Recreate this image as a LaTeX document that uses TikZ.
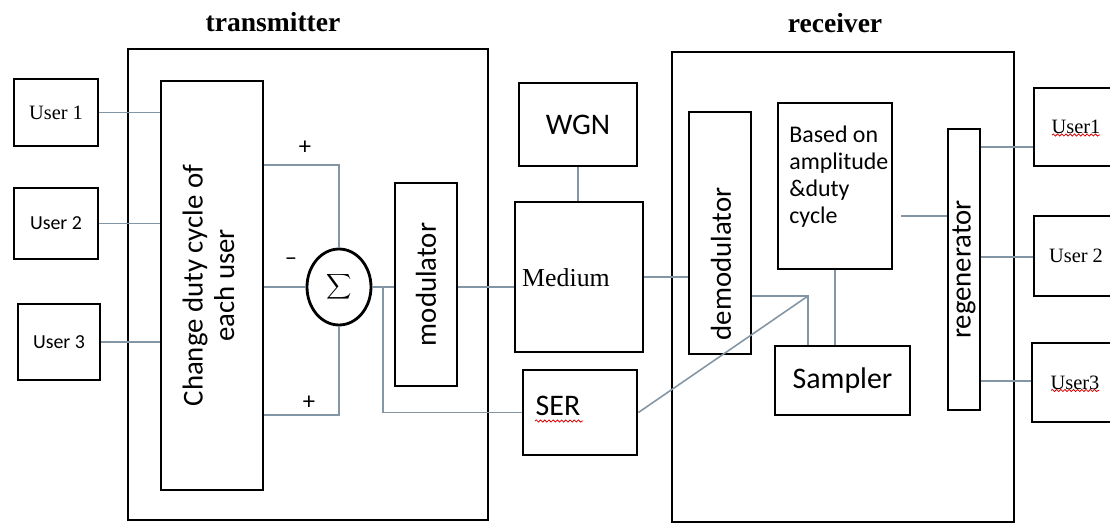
\documentclass[tikz,border=0pt]{standalone}
\usepackage{fontspec}
\usepackage{graphicx}
\setmainfont{Liberation Serif}
\newfontfamily\calfont{Carlito}
\usepackage{tikz}
\usetikzlibrary{shapes.geometric,decorations.pathmorphing}
\definecolor{wirecol}{RGB}{130,150,165}

\begin{document}
\begin{tikzpicture}[x=0.02cm,y=-0.02cm,
  blk/.style={draw=black,line width=1.6pt,inner sep=0pt},
  wire/.style={draw=wirecol,line width=0.9pt},
  squig/.style={draw=red!85!black,line width=0.45pt,decorate,decoration={snake,amplitude=0.6pt,segment length=2.4pt}},
  ttl/.style={font=\bfseries\fontsize{15.7}{18}\selectfont},
  big/.style={font=\calfont\fontsize{16.4}{18}\selectfont},
  usr/.style={font=\fontsize{11.6}{13}\selectfont},
  usrs/.style={font=\calfont\fontsize{11.3}{13}\selectfont},
  sgn/.style={font=\calfont\fontsize{14}{15}\selectfont,inner sep=0pt}]
\useasboundingbox (0,0) rectangle (1110,524);
\clip (0,0) rectangle (1110,524);
% titles
\node[ttl] (txl) at (273,22) {transmitter};
\node[ttl] (rxl) at (835,23) {receiver};
% transmitter
\node[blk,minimum width=7.2cm,minimum height=9.42cm] (tx) at (308,284.5) {};
\node[blk,usr,minimum width=1.68cm,minimum height=1.34cm] (u1) at (56,112.5) {User 1};
\node[blk,usrs,minimum width=1.68cm,minimum height=1.42cm] (u2) at (56,223.5) {User 2};
\node[blk,usrs,minimum width=1.64cm,minimum height=1.52cm] (u3) at (59,342) {User 3};
\node[blk,big,minimum width=2.04cm,minimum height=8.18cm] (chg) at (212,285.5) {\rotatebox{90}{\begin{tabular}{@{}c@{}}Change duty cycle of\\each user\end{tabular}}};
\node[blk,ellipse,minimum width=1.28cm,minimum height=1.52cm] (sum) at (339,287) {\fontsize{16}{18}\selectfont$\displaystyle\sum$};
\node[blk,big,minimum width=1.24cm,minimum height=4.06cm] (mod) at (426,284.5) {\rotatebox{90}{modulator}};
\node[sgn] (p1) at (305,148) {+};
\node[sgn] (m1) at (291,262) {\textendash};
\node[sgn] (p2) at (309,403) {+};
% channel
\node[blk,font=\calfont\fontsize{17}{19}\selectfont,minimum width=2.36cm,minimum height=1.66cm] (wgn) at (578,124.5) {WGN};
\node[blk,minimum width=2.56cm,minimum height=3.0cm] (med) at (579,277) {};
\node[font=\fontsize{14.7}{16}\selectfont] (medt) at (566,278) {Medium};
\node[blk,minimum width=2.28cm,minimum height=1.7cm] (ser) at (580,412.5) {};
\node[font=\calfont\fontsize{17}{19}\selectfont] (sert) at (558,406) {SER};
% receiver
\node[blk,minimum width=6.84cm,minimum height=9.4cm] (rx) at (843,287) {};
\node[blk,minimum width=1.24cm,minimum height=4.84cm] (demod) at (720,233) {};
\node[big] (demodt) at (721,264) {\rotatebox{90}{demodulator}};
\node[blk,minimum width=2.28cm,minimum height=3.32cm] (based) at (835,186) {};
\node[anchor=north west,align=left,inner sep=0pt,font=\calfont\fontsize{13.6}{15.3}\selectfont] (basedt) at (789,126) {Based on\\amplitude\\\&duty\\cycle};
\node[blk,font=\calfont\fontsize{17}{19}\selectfont,minimum width=2.7cm,minimum height=1.38cm] (samp) at (842.5,380.5) {Sampler};
\node[blk,big,minimum width=0.64cm,minimum height=5.62cm] (regen) at (964,269.5) {\rotatebox{90}{regenerator}};
\node[blk,usr,minimum width=1.68cm,minimum height=1.56cm] (o1) at (1076,127) {User1};
\node[blk,usr,minimum width=1.68cm,minimum height=1.6cm] (o2) at (1076,256) {User 2};
\node[blk,usr,minimum width=1.72cm,minimum height=1.58cm] (o3) at (1075,382.5) {User3};
% spelling marks
\draw[squig] ([shift={(-24,8)}]o1.center)--([shift={(24,8)}]o1.center);
\draw[squig] ([shift={(-24,8)}]o3.center)--([shift={(24,8)}]o3.center);
\draw[squig] ([shift={(-23,15)}]sert.center)--([shift={(25,15)}]sert.center);
% wires
\draw[wire] (u1.east)--(u1.east -| chg.west);
\draw[wire] (u2.east)--(u2.east -| chg.west);
\draw[wire] (u3.east)--(u3.east -| chg.west);
\draw[wire] (chg.east |- 0,165) -| (sum.north);
\draw[wire] (chg.east |- sum.west)--(sum.west);
\draw[wire] (chg.east |- 0,415) -| (sum.south);
\draw[wire] (sum.east)--(sum.east -| mod.west);
\draw[wire] (sum.east -| mod.east)--(sum.east -| med.west);
\coordinate (br) at (383,287);
\draw[wire] (br) |- (ser.west);
\draw[wire] (wgn.south)--(wgn.south |- med.north);
\draw[wire] (med.east)--(med.east -| demod.west);
\coordinate (jn) at (808,296);
\draw[wire] (jn -| demod.east)--(jn)--(jn |- samp.north);
\draw[wire] (ser.east)--(jn);
\draw[wire] (based.south)--(based.south |- samp.north);
\draw[wire] ([xshift=0.16cm]based.east |- 0,216)--(regen.west |- 0,216);
\draw[wire] (regen.east |- 0,147)--(o1.west |- 0,147);
\draw[wire] (regen.east |- 0,257)--(o2.west |- 0,257);
\draw[wire] (regen.east |- 0,381)--(o3.west |- 0,381);
\end{tikzpicture}
\end{document}
